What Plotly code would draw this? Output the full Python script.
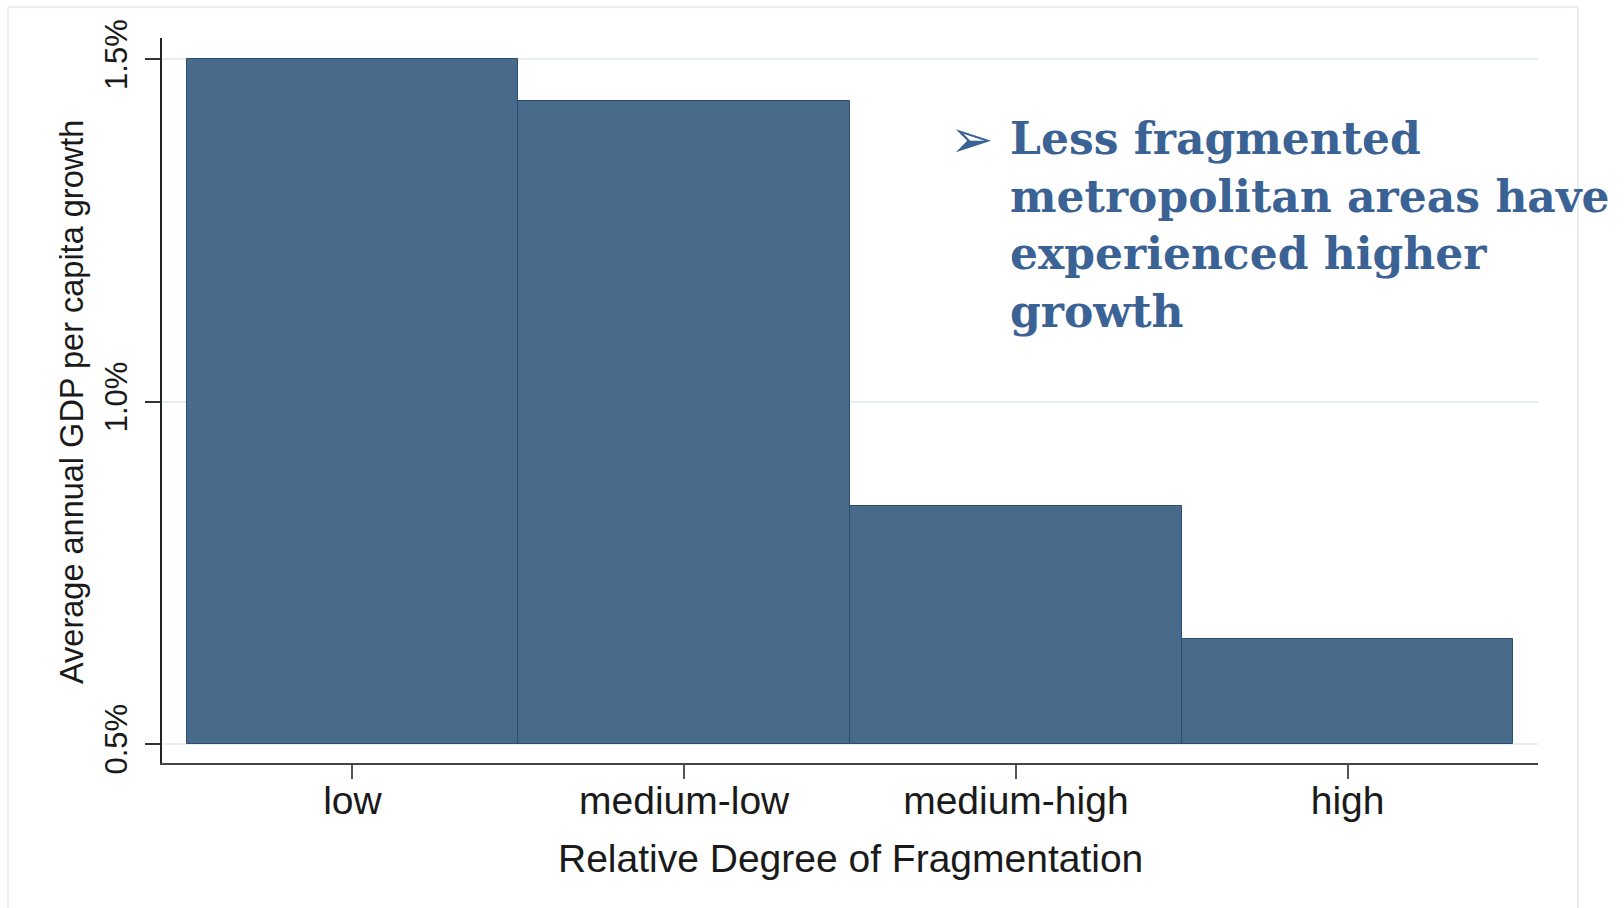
import plotly.graph_objects as go

categories = ["low", "medium-low", "medium-high", "high"]
growth = [1.500, 1.439, 0.847, 0.653]
bar_base = 0.5
y_tickvals = [0.5, 1.0, 1.5]
y_ticktext = ["0.5%", "1.0%", "1.5%"]
note_lines = ["Less fragmented", "metropolitan areas have", "experienced higher", "growth"]

W, H = 1624, 908
L, R, T, B = 162, 86, 38, 145
PW, PH = W - L - R, H - T - B

def px(x):
    return (x - L) / PW

def py(y):
    return 1 - (y - T) / PH

bar_color = "#486b8c"
text_blue = "#3a6294"

fig = go.Figure()
fig.add_trace(go.Bar(
    x=categories,
    y=[v - bar_base for v in growth],
    base=bar_base,
    width=1.0,
    marker=dict(color=bar_color, line=dict(color="#2c4d6e", width=1)),
    hoverinfo="skip",
))

fig.update_layout(
    width=W, height=H,
    margin=dict(l=L, r=R, t=T, b=B, autoexpand=False),
    paper_bgcolor="white", plot_bgcolor="white",
    showlegend=False,
    font=dict(family="Liberation Sans, Arial, sans-serif", color="#1a1a1a"),
    bargap=0,
)
fig.update_xaxes(
    range=[-0.574, 3.574],
    showline=True, linecolor="#444444", linewidth=2,
    ticks="outside", ticklen=14, tickwidth=2, tickcolor="#555555",
    tickfont=dict(size=39, color="#1a1a1a"),
    ticklabelstandoff=-12,
    showgrid=False, zeroline=False,
)
fig.update_yaxes(
    range=[0.472, 1.531],
    tickvals=y_tickvals, ticktext=y_ticktext, tickangle=-90,
    showline=True, linecolor="#222222", linewidth=2,
    ticks="outside", ticklen=15, tickwidth=2, tickcolor="#333333",
    tickfont=dict(size=31, color="#1a1a1a"),
    ticklabelstandoff=6,
    showgrid=True, gridcolor="#e8eff1", gridwidth=2, zeroline=False,
)

# axis titles as annotations
fig.add_annotation(
    text="Average annual GDP per capita growth", textangle=-90,
    xref="paper", yref="paper", x=px(72), y=py(402),
    xanchor="center", yanchor="middle", showarrow=False,
    font=dict(size=32.5, color="#1a1a1a"),
)
fig.add_annotation(
    text="Relative Degree of Fragmentation",
    xref="paper", yref="paper", x=px(850), y=py(858),
    xanchor="center", yanchor="middle", showarrow=False,
    font=dict(size=39, color="#1a1a1a"),
)

# bullet and note text
fig.add_annotation(
    text="➢", xref="paper", yref="paper", x=px(948), y=py(139),
    xanchor="left", yanchor="middle", showarrow=False,
    font=dict(size=52, color=text_blue, family="DejaVu Sans"),
)
line_centers = [138, 196, 254, 311]
for line, yc in zip(note_lines, line_centers):
    fig.add_annotation(
        text="<b>" + line + "</b>", xref="paper", yref="paper",
        x=px(1008), y=py(yc), xanchor="left", yanchor="middle", showarrow=False,
        font=dict(size=44, color=text_blue, family="DejaVu Serif, serif"),
    )

# light frame around the picture
frame = dict(color="#e6eef0", width=2)
fig.add_shape(type="line", xref="paper", yref="paper", x0=px(8), x1=px(1578), y0=py(7), y1=py(7), line=frame)
fig.add_shape(type="line", xref="paper", yref="paper", x0=px(8), x1=px(8), y0=py(7), y1=py(908), line=frame)
fig.add_shape(type="line", xref="paper", yref="paper", x0=px(1578), x1=px(1578), y0=py(7), y1=py(908), line=frame)

fig.write_html("out.html")
